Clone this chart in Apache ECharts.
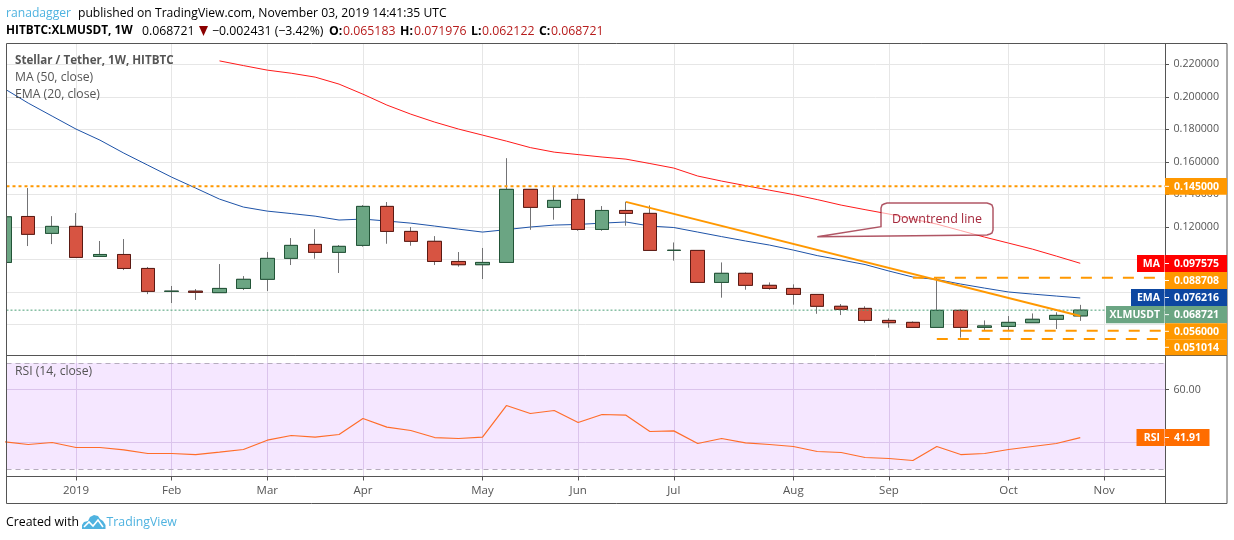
<!DOCTYPE html>
<html><head><meta charset="utf-8">
<style>html,body{margin:0;padding:0;background:#fff}#c{width:1234px;height:540px}</style>
<script src="https://cdn.jsdelivr.net/npm/echarts@6/dist/echarts.min.js"></script>
</head><body><div id="c"></div>
<script>
// [open, close, low, high] weekly candles, index 0 = first visible week
const candles = [
[0.0981,0.1262,0.0981,0.1262],[0.1264,0.1154,0.1082,0.1439],[0.1160,0.1203,0.1094,0.1266],[0.1203,0.1012,0.1012,0.1285],
[0.1018,0.1030,0.1018,0.1113],[0.1030,0.0944,0.0934,0.1125],[0.0944,0.0803,0.0786,0.0953],[0.0803,0.0804,0.0731,0.0836],
[0.0804,0.0797,0.0750,0.0817],[0.0795,0.0821,0.0795,0.0971],[0.0821,0.0877,0.0811,0.0897],[0.0877,0.1006,0.0805,0.1045],
[0.1006,0.1086,0.0965,0.1131],[0.1092,0.1043,0.1004,0.1186],[0.1043,0.1080,0.0916,0.1088],[0.1086,0.1326,0.1078,0.1334],
[0.1326,0.1172,0.1096,0.1353],[0.1172,0.1111,0.1084,0.1199],[0.1111,0.0987,0.0965,0.1143],[0.0987,0.0967,0.0955,0.1045],
[0.0967,0.0981,0.0879,0.1070],[0.0981,0.1431,0.0981,0.1623],[0.1431,0.1320,0.1182,0.1431],[0.1320,0.1363,0.1244,0.1447],
[0.1369,0.1184,0.1176,0.1402],[0.1184,0.1301,0.1176,0.1328],[0.1301,0.1283,0.1207,0.1355],[0.1283,0.1055,0.1055,0.1332],
[0.1055,0.1056,0.0992,0.1104],[0.1055,0.0858,0.0858,0.1055],[0.0858,0.0914,0.0764,0.0981],[0.0914,0.0840,0.0813,0.0920],
[0.0840,0.0821,0.0813,0.0858],[0.0821,0.0784,0.0721,0.0846],[0.0784,0.0711,0.0665,0.0784],[0.0711,0.0692,0.0657,0.0725],
[0.0698,0.0624,0.0610,0.0711],[0.0624,0.0610,0.0579,0.0637],[0.0612,0.0581,0.0581,0.0618],[0.0581,0.0686,0.0581,0.0889],
[0.0686,0.0581,0.0518,0.0692],[0.0581,0.0590,0.0563,0.0624],[0.0587,0.0612,0.0563,0.0651],[0.0610,0.0631,0.0610,0.0667],
[0.0631,0.0655,0.0571,0.0674],[0.065183,0.068721,0.062122,0.071976]];
const emaValues = [0.2051,0.1962,0.1882,0.1802,0.1734,0.1654,0.1580,0.1506,0.1439,0.1371,0.1322,0.1297,0.1282,0.1266,0.1242,0.1248,0.1236,0.1223,0.1205,0.1186,0.1168,0.1183,0.1199,0.1211,0.1215,0.1223,0.1230,0.1205,0.1196,0.1168,0.1140,0.1113,0.1088,0.1057,0.1023,0.0996,0.0968,0.0928,0.0891,0.0876,0.0848,0.0823,0.0799,0.0786,0.0774,0.076216];
const maStart = 9;
const maValues = [0.2222,0.2193,0.2165,0.2146,0.2122,0.2079,0.2017,0.1950,0.1894,0.1845,0.1802,0.1765,0.1728,0.1688,0.1660,0.1645,0.1630,0.1617,0.1590,0.1562,0.1513,0.1482,0.1454,0.1426,0.1399,0.1368,0.1334,0.1306,0.1279,0.1248,0.1217,0.1177,0.1137,0.1100,0.1063,0.1020,0.097575];
const rsiValues = [40.33,39.32,40.08,38.20,38.20,37.32,35.94,35.94,35.56,36.44,37.44,40.95,42.71,42.08,43.08,49.10,45.84,44.59,41.95,41.58,42.08,53.98,50.98,52.11,47.59,50.60,50.35,44.21,44.46,39.70,41.58,39.95,39.32,38.57,36.69,36.32,34.44,34.06,33.31,38.57,35.56,35.94,37.44,38.57,39.70,41.91];
const monthTicks = [3,7,11,15,20,24,28,33,37,42,46];
const monthLabels = ['2019','Feb','Mar','Apr','May','Jun','Jul','Aug','Sep','Oct','Nov'];
const priceTicks = [0.06,0.08,0.10,0.12,0.14,0.16,0.18,0.20,0.22];
const priceLabels = [0.12,0.14,0.16,0.18,0.20,0.22];
const rsiTicks = [40,60];
const trendLine = [[26,0.1354],[45,0.0651]];
const lastClose = 0.068721, resistance = 0.145, levelA = 0.088708, levelB = 0.056, levelC = 0.051014;
const levelAStart = 38, levelBStart = 40, levelCStart = 39;

const xMin = 0.092, xMax = 48.544;
const FONT = '"Open Sans", sans-serif';
const GRID = '#e6e6e6', FRAME = '#555', TXT = '#555';
const ORANGE = '#ff9800';
const idx = a => a.map((v,i)=>[i,v]);

function txt(x,y,s,o){return {type:'text',z:100,silent:true,style:Object.assign({x,y:y+1,text:s,font:'12px '+FONT,fill:'#000',textVerticalAlign:'middle'},o||{})};}
function seg(x1,y1,x2,y2){return {type:'line',z:60,silent:true,shape:{x1,y1,x2,y2},style:{stroke:FRAME,lineWidth:1}};}
const TAGF = 'bold 10.5px '+FONT;
function nameTag(x,y,w,h,color,s){
  return [{type:'rect',z:90,silent:true,shape:{x,y,width:w,height:h},style:{fill:color}},
          txt(1160,y+h/2-0.5,s,{fill:'#fff',textAlign:'right',font:TAGF})];
}
function valueTag(y,h,color,s,w){
  return [{type:'rect',z:90,silent:true,shape:{x:1165,y,width:w||62,height:h},style:{fill:color}},
    txt(1174,y+h/2-0.5,s,{fill:'#fff',font:TAGF}),
    {type:'line',z:95,silent:true,shape:{x1:1165,y1:y+h/2,x2:1169,y2:y+h/2},style:{stroke:'#fff',lineWidth:1}}];
}
const F13 = '12.3px '+FONT, F12 = '12.15px '+FONT;
const graphics = [
  {type:'rect',z:50,silent:true,shape:{x:0,y:44,width:6,height:311},style:{fill:'#fff'}},
  {type:'rect',z:60,silent:true,shape:{x:6.5,y:43.5,width:1220.5,height:460},style:{fill:'none',stroke:FRAME,lineWidth:1}},
  seg(1165.5,43.5,1165.5,503.5), seg(1165.5,355.5,1227,355.5),
  txt(6,13,'ranadagger',{fill:'#4fb3e0',font:F12}),
  txt(78,13,'published on TradingView.com, November 03, 2019 14:41:35 UTC',{font:F12}),
  txt(6,30,'HITBTC:XLMUSDT, 1W',{font:'bold 11.8px '+FONT}),
  txt(142,30,'0.068721',{font:F13}),
  {type:'polygon',z:100,silent:true,shape:{points:[[199,26],[208,26],[203.5,36]]},style:{fill:'#8b0000'}},
  txt(212,30,'\u22120.002431 (\u22123.42%)',{font:F13}),
  txt(329,30,'O:',{font:'bold 12.3px '+FONT}), txt(343,30,'0.065183',{fill:'#b71c1c',font:F13}),
  txt(400,30,'H:',{font:'bold 12.3px '+FONT}), txt(414,30,'0.071976',{fill:'#b71c1c',font:F13}),
  txt(471,30,'L:',{font:'bold 12.3px '+FONT}), txt(482,30,'0.062122',{fill:'#b71c1c',font:F13}),
  txt(539,30,'C:',{font:'bold 12.3px '+FONT}), txt(551,30,'0.068721',{fill:'#b71c1c',font:F13}),
  txt(15,60,'Stellar / Tether, 1W, HITBTC',{fill:TXT,font:'bold 11.6px '+FONT}),
  txt(15,77,'MA (50, close)',{fill:TXT,font:'12.2px '+FONT}),
  txt(15,94,'EMA (20, close)',{fill:TXT,font:'12.2px '+FONT}),
  txt(15,371,'RSI (14, close)',{fill:TXT,font:'12.2px '+FONT}),
  // callout
  {type:'polygon',z:70,silent:true,shape:{points:[[817.3,236.7],[881,226.7],[881,208],[882,205],[884,204],[887,203],[987,203],[990,204],[992,205],[993,208],[993,230],[992,233],[990,234],[987,235]]},
   style:{fill:'rgba(255,255,255,0.6)',stroke:'rgba(150,30,50,0.75)',lineWidth:1.5}},
  txt(937,218,'Downtrend line',{fill:'#a5283c',textAlign:'center',font:'12.5px '+FONT}),
  ...nameTag(1137,255,27.5,17,'#ff0000','MA'),
  ...valueTag(255,17,'#ff0000','0.097575'),
  ...valueTag(272,17,ORANGE,'0.088708'),
  ...nameTag(1131,289,33.5,17,'#0d47a1','EMA'),
  ...valueTag(289,17,'#0d47a1','0.076216'),
  ...nameTag(1106,306,58.5,17.3,'#6ba583','XLMUSDT'),
  ...valueTag(306,17.3,'#6ba583','0.068721'),
  ...valueTag(323.3,16,ORANGE,'0.056000'),
  ...valueTag(339.3,16,ORANGE,'0.051014'),
  ...valueTag(178,16.7,ORANGE,'0.145000'),
  ...nameTag(1136.5,429,28,17,'#ff6d00','RSI'),
  ...valueTag(429,17,'#ff6d00','41.91',44.5),
  txt(6,521,'Created with',{font:F13}),
  {type:'polygon',z:100,silent:true,shape:{points:[[82,529],[82,525],[84,522],[88,521],[90,517],[94,515],[98,516],[100,519],[103,521],[105.5,525],[105.5,529]]},style:{fill:'#4fb3e0'}},
  {type:'polyline',z:101,silent:true,shape:{points:[[84,527],[89,522],[93,526],[98,520],[103,527]]},style:{fill:'none',stroke:'#fff',lineWidth:1.6}},
  txt(106.5,521,'TradingView',{fill:'#4fb3e0',font:F13})
];

function hLine(y,start,color,width,dash){
  return {type:'line',xAxisIndex:0,yAxisIndex:0,data:[[start,y],[xMax,y]],symbol:'none',silent:true,z:6,
          lineStyle:{color,width,type:dash}};
}
const up='#6ba583', down='#d75442';
const chart = echarts.init(document.getElementById('c'),null,{renderer:'canvas'});
chart.setOption({
  animation:false, backgroundColor:'#fff',
  graphic:{elements:graphics},
  grid:[{left:6.5,top:43.5,width:1158.5,height:312},{left:6.5,top:356,width:1158.5,height:120.5}],
  xAxis:[
    {type:'value',gridIndex:0,min:xMin,max:xMax,axisLine:{show:true,onZero:false,lineStyle:{color:FRAME}},
     axisTick:{show:false,customValues:monthTicks},axisLabel:{show:false,customValues:monthTicks},
     splitLine:{show:true,lineStyle:{color:GRID,width:1}}},
    {type:'value',gridIndex:1,min:xMin,max:xMax,axisLine:{show:true,onZero:false,lineStyle:{color:FRAME}},
     axisTick:{show:true,length:4,lineStyle:{color:FRAME},customValues:monthTicks},
     axisLabel:{show:true,customValues:monthTicks,margin:8,color:TXT,fontFamily:FONT,fontSize:11.5,
       formatter:v=>monthLabels[monthTicks.indexOf(v)]||''},
     splitLine:{show:true,lineStyle:{color:'#e2d9ea',width:1}}}
  ],
  yAxis:[
    {type:'value',gridIndex:0,position:'right',min:0.0408,max:0.2329,scale:true,
     axisLine:{show:false},axisTick:{show:true,length:4,lineStyle:{color:FRAME},customValues:priceTicks},
     axisLabel:{show:true,customValues:priceLabels,margin:8.5,padding:[4,0,0,0],color:TXT,fontFamily:FONT,fontSize:10.7,formatter:v=>v.toFixed(6)},
     splitLine:{show:true,lineStyle:{color:GRID,width:1}}},
    {type:'value',gridIndex:1,position:'right',min:27.3,max:72.6,scale:true,
     axisLine:{show:false},axisTick:{show:true,length:4,lineStyle:{color:FRAME},customValues:rsiTicks},
     axisLabel:{show:true,customValues:rsiTicks,margin:8.5,padding:[4,0,0,0],color:TXT,fontFamily:FONT,fontSize:10.7,formatter:v=>v.toFixed(2)},
     splitLine:{show:true,lineStyle:{color:'#e2d9ea',width:1}}}
  ],
  series:[
    {name:'EMA',type:'line',data:idx(emaValues),symbol:'none',silent:true,z:3,lineStyle:{color:'#1e53a8',width:1}},
    {name:'MA',type:'line',data:maValues.map((v,i)=>[i+maStart,v]),symbol:'none',silent:true,z:3,lineStyle:{color:'#ff1a1a',width:1}},
    {name:'wicks',type:'candlestick',z:4,silent:true,barWidth:14,encode:{x:0,y:[1,2,3,4]},
     data:candles.map((c,i)=>[i,c[0],c[1],c[2],c[3]]),
     itemStyle:{color:up,color0:down,borderColor:'#737375',borderColor0:'#737375',borderColorDoji:'#737375',borderWidth:1}},
    {name:'bodies',type:'candlestick',z:5,silent:true,barWidth:14,encode:{x:0,y:[1,2,3,4]},
     data:candles.map((c,i)=>[i,c[0],c[1],Math.min(c[0],c[1]),Math.max(c[0],c[1])]),
     itemStyle:{color:up,color0:down,borderColor:'#225437',borderColor0:'#5b1a13',borderColorDoji:'#225437',borderWidth:1}},
    hLine(lastClose,xMin,'#4a9e75',1,[2,2]),
    hLine(resistance,xMin,ORANGE,2,[3,3]),
    hLine(levelA,levelAStart,ORANGE,2,[11,10]),
    hLine(levelB,levelBStart,ORANGE,2,[11,10]),
    hLine(levelC,levelCStart,ORANGE,2,[11,10]),
    {name:'trend',type:'line',data:trendLine,symbol:'none',silent:true,z:7,lineStyle:{color:ORANGE,width:2}},
    {name:'RSI',type:'line',xAxisIndex:1,yAxisIndex:1,data:idx(rsiValues),symbol:'none',silent:true,z:5,
     lineStyle:{color:'#ff6d2a',width:1.2},
     markArea:{silent:true,itemStyle:{color:'rgba(153,21,255,0.1)'},data:[[{yAxis:70,xAxis:xMin},{yAxis:30,xAxis:xMax}]]},
     markLine:{silent:true,symbol:'none',label:{show:false},lineStyle:{color:'#b5acbd',type:[5,4],width:1},data:[{yAxis:70},{yAxis:30}]}}
  ]
});
</script></body></html>
